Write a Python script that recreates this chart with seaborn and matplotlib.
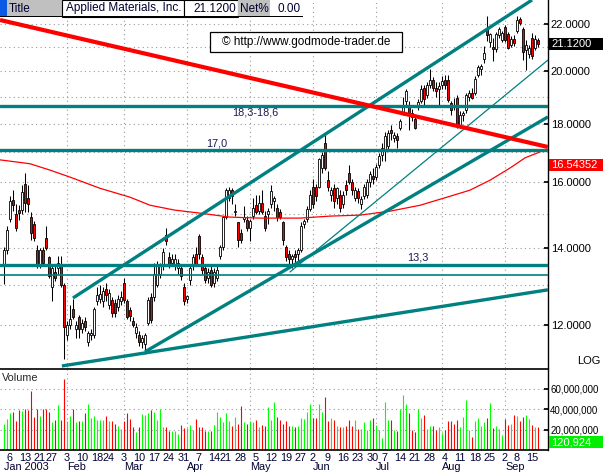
"""Applied Materials daily candles with trend channels and volume (godmode-trader style)."""

import matplotlib

matplotlib.use("Agg")
import matplotlib.patches as mpatches
import matplotlib.pyplot as plt
import matplotlib.transforms as mtransforms
import numpy as np
import pandas as pd
import seaborn as sns

W, H = 603, 473
TEAL = "#008080"
RED = "#ff0000"
GRID = dict(color="#9a9a9a", linestyle=(0, (1, 3)), linewidth=0.8, zorder=0)

# --- data -----------------------------------------------------------------
HOLIDAYS = ["2003-01-20", "2003-02-17", "2003-04-18", "2003-05-26", "2003-07-04", "2003-09-01"]

OPEN = [
    13.54, 13.95, 14.85, 15.43, 15.00, 15.12, 15.12, 15.95, 15.50, 14.90,
    14.70, 13.95, 13.55, 13.95, 14.30, 13.75, 12.95, 13.35, 13.45, 13.55,
    13.00, 11.75, 12.00, 12.40, 11.90, 12.20, 11.90, 12.10, 11.60, 11.75,
    11.75, 12.60, 12.65, 12.60, 12.90, 12.50, 12.62, 12.55, 12.45, 12.60,
    13.05, 12.60, 12.37, 12.10, 11.80, 11.75, 11.60, 11.55, 12.05, 12.70,
    12.70, 13.00, 13.30, 13.50, 14.38, 13.75, 13.60, 13.55, 13.45, 13.45,
    12.95, 12.65, 13.15, 13.50, 13.85, 14.35, 13.75, 13.45, 13.20, 13.40,
    13.05, 13.20, 13.80, 14.05, 14.90, 15.50, 15.75, 15.05, 14.75, 14.45,
    14.85, 14.82, 14.60, 14.95, 15.27, 15.10, 15.35, 14.95, 15.00, 15.30,
    15.40, 15.20, 15.05, 14.75, 14.05, 13.85, 13.70, 13.85, 13.85, 13.95,
    14.70, 14.85, 15.15, 15.85, 15.85, 15.85, 16.45, 17.30, 16.05, 15.60,
    15.80, 15.50, 15.60, 15.30, 15.90, 16.30, 16.00, 15.50, 15.70, 15.30,
    15.55, 15.60, 16.00, 16.20, 16.15, 16.55, 16.90, 17.10, 17.20, 17.75,
    17.50, 17.55, 17.85, 18.40, 18.85, 18.65, 18.40, 18.15, 18.70, 18.85,
    19.35, 19.05, 19.45, 19.65, 19.35, 19.30, 19.45, 19.65, 19.65, 18.75,
    18.70, 18.95, 17.95, 18.30, 18.50, 19.00, 19.15, 19.15, 19.85, 20.10,
    20.50, 21.75, 21.20, 21.00, 20.90, 21.50, 21.30, 21.85, 21.55, 21.10,
    21.35, 21.70, 22.20, 21.75, 20.85, 20.70, 21.40, 20.95, 21.30,
]
HIGH = [
    14.03, 14.65, 15.55, 15.74, 15.30, 15.27, 15.90, 16.30, 15.90, 15.05,
    14.80, 14.10, 14.00, 14.05, 14.65, 13.80, 13.50, 13.50, 13.80, 13.80,
    13.05, 12.10, 12.50, 12.65, 12.10, 12.25, 12.15, 12.20, 11.85, 11.90,
    12.45, 12.95, 13.00, 12.95, 13.05, 12.90, 12.70, 12.65, 12.75, 12.85,
    13.20, 12.65, 12.45, 12.20, 12.05, 11.85, 11.75, 11.80, 12.70, 12.80,
    13.60, 13.65, 13.60, 14.00, 14.60, 13.90, 13.85, 13.85, 13.70, 13.55,
    13.05, 12.75, 13.55, 13.85, 14.05, 14.40, 13.85, 13.55, 13.45, 13.50,
    13.45, 13.50, 14.10, 14.95, 15.80, 15.85, 15.80, 15.30, 14.75, 14.55,
    15.25, 14.95, 14.85, 15.50, 15.60, 15.60, 15.75, 15.10, 15.20, 15.90,
    15.55, 15.30, 15.15, 14.80, 14.10, 13.95, 13.85, 13.95, 14.00, 14.75,
    14.85, 15.25, 15.75, 16.10, 15.95, 16.80, 17.00, 17.65, 16.35, 15.85,
    15.95, 15.85, 15.75, 15.70, 16.05, 16.55, 16.10, 15.85, 15.80, 15.55,
    15.95, 16.10, 16.35, 16.45, 16.60, 16.95, 17.30, 17.70, 17.75, 17.95,
    17.70, 17.65, 18.15, 19.00, 19.30, 18.85, 18.55, 18.30, 18.90, 19.45,
    19.45, 19.55, 20.10, 19.75, 19.55, 19.55, 19.80, 19.85, 19.85, 18.85,
    18.95, 19.05, 18.45, 18.45, 19.15, 19.25, 19.35, 19.80, 20.25, 20.30,
    21.05, 22.35, 21.60, 21.40, 21.65, 21.85, 21.70, 21.95, 21.65, 21.45,
    21.50, 22.35, 22.30, 21.85, 21.30, 21.10, 21.60, 21.50, 21.40,
]
LOW = [
    13.04, 13.85, 14.75, 15.10, 14.50, 14.82, 15.00, 15.05, 15.05, 14.25,
    14.20, 13.45, 13.45, 13.50, 13.95, 13.20, 12.60, 13.10, 13.30, 12.95,
    11.20, 11.65, 11.90, 12.15, 11.70, 11.70, 11.80, 11.85, 11.50, 11.65,
    11.70, 12.50, 12.55, 12.45, 12.60, 12.40, 12.20, 12.20, 12.35, 12.50,
    12.55, 12.15, 12.10, 11.95, 11.70, 11.50, 11.45, 11.33, 12.00, 12.05,
    12.60, 12.95, 13.20, 13.40, 14.10, 13.45, 13.50, 13.40, 13.30, 13.15,
    12.50, 12.55, 13.00, 13.40, 13.50, 13.70, 13.30, 13.05, 13.05, 12.95,
    12.95, 13.10, 13.70, 13.95, 14.85, 15.40, 15.30, 14.95, 14.05, 14.15,
    14.75, 14.50, 14.20, 14.85, 15.00, 15.00, 15.00, 14.50, 14.70, 15.20,
    15.10, 14.80, 14.85, 14.10, 13.65, 13.45, 13.45, 13.55, 13.60, 13.90,
    14.60, 14.75, 15.10, 15.20, 15.40, 15.80, 16.30, 16.40, 15.70, 15.40,
    15.20, 15.30, 15.05, 15.20, 15.60, 15.95, 15.60, 15.40, 15.35, 15.15,
    15.45, 15.50, 15.85, 15.95, 16.05, 16.45, 16.70, 16.70, 17.05, 17.40,
    17.35, 17.15, 17.75, 18.30, 18.70, 17.75, 18.10, 17.80, 18.50, 18.75,
    18.70, 18.95, 19.35, 19.20, 19.00, 18.60, 19.30, 19.30, 18.80, 18.30,
    18.50, 17.85, 17.85, 18.10, 18.40, 18.85, 18.90, 19.05, 19.75, 19.85,
    20.35, 21.25, 21.00, 20.40, 20.80, 21.40, 21.20, 21.20, 20.90, 21.00,
    21.05, 21.60, 21.95, 20.45, 20.05, 20.55, 20.50, 20.85, 21.00,
]
CLOSE = [
    13.95, 14.53, 15.40, 15.27, 14.60, 15.03, 15.68, 15.35, 15.30, 14.45,
    14.30, 13.55, 13.95, 13.60, 14.00, 13.25, 13.45, 13.20, 13.60, 13.00,
    11.95, 12.00, 12.15, 12.20, 12.00, 11.90, 12.05, 11.95, 11.80, 11.80,
    12.40, 12.75, 12.78, 12.85, 12.75, 12.80, 12.30, 12.30, 12.65, 12.70,
    12.62, 12.20, 12.22, 12.00, 11.95, 11.60, 11.68, 11.75, 12.62, 12.12,
    13.30, 13.55, 13.50, 13.90, 14.20, 13.55, 13.70, 13.70, 13.60, 13.25,
    12.60, 12.72, 13.45, 13.75, 13.55, 13.85, 13.40, 13.15, 13.35, 13.00,
    13.35, 13.40, 14.05, 14.90, 15.75, 15.75, 15.55, 15.10, 14.25, 14.25,
    14.90, 14.60, 14.80, 15.20, 15.05, 15.35, 15.05, 14.60, 15.10, 15.70,
    15.50, 14.90, 14.90, 14.25, 13.75, 13.70, 13.80, 13.75, 13.95, 14.65,
    14.80, 15.15, 15.60, 15.30, 15.55, 16.75, 16.90, 16.45, 15.85, 15.75,
    15.40, 15.80, 15.20, 15.60, 15.75, 16.00, 15.75, 15.75, 15.50, 15.45,
    15.85, 16.00, 16.25, 16.10, 16.50, 16.85, 17.15, 17.55, 17.65, 17.65,
    17.60, 17.40, 18.10, 18.60, 19.20, 18.30, 18.25, 17.85, 18.80, 19.30,
    18.90, 19.45, 19.65, 19.35, 19.20, 19.40, 19.60, 19.45, 18.87, 18.50,
    18.60, 17.95, 18.30, 18.40, 19.05, 19.15, 18.95, 19.70, 20.15, 20.20,
    20.75, 21.50, 21.55, 20.90, 21.55, 21.75, 21.60, 21.30, 20.95, 21.35,
    21.15, 22.15, 22.05, 20.80, 21.10, 20.95, 20.60, 21.35, 21.12,
]
VOLUME_M = [
    26, 30, 36, 37, 28, 39, 38, 40, 39, 58,
    32.5, 40, 33, 40, 40, 37, 27, 29, 44, 29,
    70, 28, 33, 40, 27, 28, 28, 36, 45, 31,
    33, 29, 29, 29, 33, 28, 28, 26, 24, 21,
    28, 36, 30, 23, 18, 23, 35, 34, 36, 39,
    37, 29, 40, 23, 23, 19, 19, 19, 16, 25,
    22, 22, 25, 20, 30, 23, 23, 19, 19, 19,
    25, 37, 32, 27, 36, 28, 24, 32, 26, 43,
    27, 26, 28, 27, 29, 23, 25, 24, 42, 29,
    47, 32, 29, 26, 28, 24, 24, 23, 24, 31,
    30, 37, 45, 31, 31, 45, 37, 52, 28, 31,
    29, 24, 23, 23, 24, 29, 24, 29, 21, 21,
    27, 20, 29, 31, 25, 20, 12, 47, 29, 29,
    19.5, 19, 40, 54, 45, 36, 20, 18, 40, 31,
    34, 21, 24, 24, 19.5, 23, 17, 20, 28, 28,
    26, 29, 23, 32.5, 49, 20, 13, 28, 31, 24,
    27, 31, 46, 22, 24, 21, 15, 30, 25, 26,
    34, 33, 28, 32.5, 34, 30, 25, 23, 23,
]

# 200-day average
MA_X = [-1.3, 8.7, 15.3, 22, 32, 42, 48.7, 57, 65.3, 75.3, 85.3, 98.7,
        108.7, 118.7, 128.7, 138.7, 148.7, 155.3, 162, 168.7, 173.7, 178.7]
MA_Y = [16.73, 16.60, 16.39, 16.16, 15.80, 15.52, 15.27, 15.12, 15.03, 14.91, 14.88, 14.88,
        14.94, 14.97, 15.09, 15.27, 15.55, 15.74, 16.06, 16.46, 16.80, 17.00]

# drawn trend lines: ((start index, price), (end index, price))
RED_TREND = ((-1.33, 22.17), (181.3, 17.17))
CHANNEL_TOP = ((23.0, 12.67), (176.0, 23.08))
CHANNEL_BOTTOM = ((47.0, 11.37), (181.3, 18.24))
SUPPORT = ((19.3, 11.05), (181.3, 12.88))
THIN_TREND = ((95.3, 13.35), (181.3, 20.45))
LEVELS_THICK = [18.64, 17.05, 13.55]
LEVEL_THIN = 13.27

dates = pd.bdate_range("2003-01-02", "2003-09-17")
dates = dates[~dates.isin(pd.to_datetime(HOLIDAYS))]
df = pd.DataFrame({"date": dates, "open": OPEN, "high": HIGH, "low": LOW,
                   "close": CLOSE, "volume": np.array(VOLUME_M) * 1e6})
df["idx"] = np.arange(len(df))
up = df["close"] >= df["open"]

# --- figure ---------------------------------------------------------------
sns.set_theme(style="white")
plt.rcParams["font.family"] = ["Liberation Sans", "DejaVu Sans"]

fig = plt.figure(figsize=(W / 100, H / 100), dpi=100)
fig.patch.set_facecolor("white")
ax = fig.add_axes([0, 1 - 368 / H, 548 / W, 368 / H])
ax_v = fig.add_axes([0, 23 / H, 548 / W, 81 / H])

YMIN, YMAX = 11.005, 23.08
XMIN, XMAX = -4 / 3, 544 / 3
ax.set_yscale("log")
ax.set_ylim(YMIN, YMAX)
ax.set_xlim(XMIN, XMAX)
ax_v.set_xlim(XMIN, XMAX)
ax_v.set_ylim(0, 79.5e6)

month_starts = df.groupby(df["date"].dt.month)["idx"].min()
week_starts = df.groupby(df["date"].dt.isocalendar().week)["idx"].min()
week_starts = week_starts[week_starts > 0]

# grid
for p in range(12, 23):
    ax.axhline(p, **GRID)
for m in month_starts.values[1:]:
    ax.axvline(m, **GRID)
    ax_v.axvline(m, **GRID)
for v in (20e6, 40e6, 60e6):
    ax_v.axhline(v, **GRID)

# candles
ax.vlines(df["idx"], df["low"], df["high"], color="black", linewidth=0.75, zorder=3)
body_lo = np.minimum(df["open"], df["close"])
body_hi = np.maximum(df["open"], df["close"])
ax.bar(df["idx"], body_hi - body_lo, bottom=body_lo, width=0.72,
       color=np.where(up, "white", RED), edgecolor="black", linewidth=0.6, zorder=4)

# average and trend lines
sns.lineplot(x=MA_X, y=MA_Y, ax=ax, color=RED, linewidth=0.9, sort=False, zorder=5)
for (x0, y0), (x1, y1) in (CHANNEL_TOP, CHANNEL_BOTTOM, SUPPORT):
    ax.plot([x0, x1], [y0, y1], color=TEAL, linewidth=2.4, zorder=6, solid_capstyle="butt")
ax.plot(*zip(*THIN_TREND), color=TEAL, linewidth=0.9, zorder=6)
for lvl in LEVELS_THICK:
    ax.axhline(lvl, color=TEAL, linewidth=2.4, zorder=6)
ax.axhline(LEVEL_THIN, color=TEAL, linewidth=1.2, zorder=6)
ax.plot(*zip(*RED_TREND), color=RED, linewidth=3.0, zorder=7, solid_capstyle="butt")

lbl = dict(fontsize=7.8, color="#1a1a50", zorder=8)
ax.text(83.7, 18.40, "18,3-18,6", ha="center", va="center", **lbl)
ax.text(67.5, 17.12, "17,0", ha="left", va="bottom", **lbl)
ax.text(138, 13.62, "13,3", ha="center", va="bottom", **lbl)

# price axis on the right
for a in (ax, ax_v):
    for s in ("left", "top", "bottom"):
        a.spines[s].set_visible(False)
    a.spines["right"].set_color("black")
    a.spines["right"].set_linewidth(1.0)
    a.set_xticks([])
ax.yaxis.tick_right()
ax.set_yticks([12, 14, 16, 18, 20, 22])
ax.set_yticklabels([f"{v:.4f}" for v in (12, 14, 16, 18, 20, 22)])
ax.yaxis.set_minor_locator(matplotlib.ticker.NullLocator())
ax.tick_params(axis="y", direction="in", length=3, pad=2, labelsize=8, colors="black")

# volume
ax_v.spines["top"].set_visible(True)
ax_v.spines["bottom"].set_visible(True)
for s in ("top", "bottom"):
    ax_v.spines[s].set_color("black")
    ax_v.spines[s].set_linewidth(1.2)
ax_v.vlines(df["idx"], 0, df["volume"], colors=np.where(up, "#00ff00", RED), linewidth=0.8)
ax_v.yaxis.tick_right()
ax_v.set_yticks([20e6, 40e6, 60e6])
ax_v.set_yticklabels(["20,000,000", "40,000,000", "60,000,000"])
ax_v.tick_params(axis="y", direction="in", length=3, pad=1.5, labelsize=7, colors="black")
ax_v.text(0.004, 0.95, "Volume", transform=ax_v.transAxes, ha="left", va="top", fontsize=7.8)

# date labels under the volume panel
tr = mtransforms.blended_transform_factory(ax_v.transData, fig.transFigure)
for i in week_starts.values:
    fig.text(i, 1 - 457.5 / H, str(df["date"][i].day), transform=tr,
             ha="center", va="center", fontsize=7.8, color="#000030")
for m, i in month_starts.items():
    name = df["date"][i].strftime("%b")
    if m == 1:
        name += " 2003"
    fig.text(i, 1 - 467 / H, name, transform=tr, ha="left", va="center",
             fontsize=7.8, color="#000030")


# --- overlays in pixel coordinates ----------------------------------------
def px_rect(x0, y0, x1, y1, **kw):
    fig.patches.append(mpatches.Rectangle(
        (x0 / W, 1 - y1 / H), (x1 - x0) / W, (y1 - y0) / H,
        transform=fig.transFigure, figure=fig, **kw))


def px_text(x, y, s, **kw):
    fig.text(x / W, 1 - y / H, s, **kw)


def price_to_px(p):
    disp = ax.transData.transform((0, p))
    return H - fig.transFigure.inverted().transform(disp)[1] * H


# title strip
px_rect(0, 0, 7, 17, facecolor="#0a5ae6", edgecolor="none", zorder=10)
px_rect(7, 0, 62, 17, facecolor="#c0c0c0", edgecolor="none", zorder=10)
px_rect(62, 0, 184, 17, facecolor="white", edgecolor="black", linewidth=0.8, zorder=10)
px_rect(184, 0, 238, 17, facecolor="white", edgecolor="black", linewidth=0.8, zorder=10)
px_rect(238, 0, 270, 17, facecolor="#c0c0c0", edgecolor="none", zorder=10)
px_rect(270, 0, 303, 17, facecolor="white", edgecolor="none", zorder=10)
px_rect(0, 16.5, 303, 17.5, facecolor="black", edgecolor="none", zorder=11)
tb = dict(fontsize=8.5, va="center", color="#000030", zorder=12)
px_text(9, 8.5, "Title", ha="left", **tb)
px_text(181, 8.5, "Applied Materials, Inc.", ha="right", **tb)
px_text(236, 8.5, "21.1200", ha="right", **tb)
px_text(240, 8.5, "Net%", ha="left", **tb)
px_text(301, 8.5, "0.00", ha="right", **tb)

# watermark
px_rect(210, 32, 402, 52, facecolor="white", edgecolor="black", linewidth=0.9, zorder=10)
px_text(306, 42, "\u00a9 http://www.godmode-trader.de", ha="center", va="center",
        fontsize=8.5, color="black", zorder=12)

# value boxes on the right axis
y_last = price_to_px(21.12)
px_rect(549, y_last - 6, 603, y_last + 6, facecolor="black", edgecolor="none", zorder=10)
px_text(551, y_last, "21.1200", ha="left", va="center", fontsize=8, color="white", zorder=12)
y_ma = price_to_px(16.54352)
px_rect(549, y_ma - 6, 603, y_ma + 6, facecolor=RED, edgecolor="none", zorder=10)
px_text(551, y_ma, "16.54352", ha="left", va="center", fontsize=8, color="white", zorder=12)
px_rect(549, 436, 603, 448, facecolor="#00ee00", edgecolor="none", zorder=10)
px_text(551, 442, "120,924", ha="left", va="center", fontsize=8, color="white", zorder=12)
px_text(601, 361, "LOG", ha="right", va="center", fontsize=8, color="black")

fig.savefig("out.png", dpi=100)
plt.close(fig)
